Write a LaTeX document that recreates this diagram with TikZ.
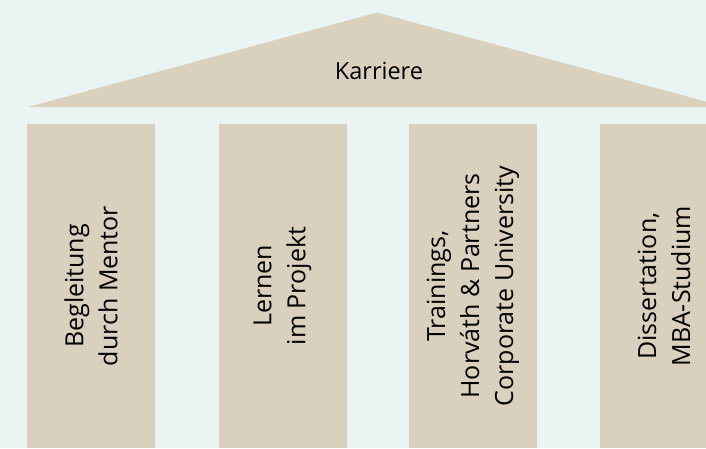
\documentclass[tikz,border=0pt]{standalone}
\usepackage{fontspec}
\setmainfont{Open Sans}
\usetikzlibrary{positioning}
\definecolor{hintergrund}{RGB}{234,245,243}
\definecolor{sand}{RGB}{217,208,190}

\begin{document}
\begin{tikzpicture}[x=1pt,y=-1pt,
	saeule/.style={fill=sand,rotate=90,minimum width=324pt,minimum height=128pt,
		inner sep=0pt,align=center,font=\fontsize{25}{34}\selectfont},
	dach/.style={fill=sand},
	titel/.style={font=\fontsize{23.5}{28}\selectfont}]

%-------------------------------------------------------------------------------
% Hintergrund
%-------------------------------------------------------------------------------
\useasboundingbox (0,0) rectangle (706,448);
\clip (0,0) rectangle (706,448);
\fill [hintergrund] (0,0) rectangle (706,448);

%-------------------------------------------------------------------------------
% Dach
%-------------------------------------------------------------------------------
\coordinate (dachlinks)		at (28,107);
\coordinate (dachspitze)	at (377,12.5);
\coordinate (dachrechts)	at (726,107);
\fill [dach] (dachlinks) -- (dachspitze) -- (dachrechts) -- cycle;
\node (karriere) [titel] at (379,71) {Karriere};

%-------------------------------------------------------------------------------
% Saeulen
%-------------------------------------------------------------------------------
\node (mentor)		[saeule] at (91,286)	{Begleitung\\durch Mentor};
\node (projekt)		[saeule] at (282.5,286)	{Lernen\\im Projekt};
\node (trainings)	[saeule] at (473,286)	{Trainings,\\Horváth \& Partners\\Corporate University};
\node (studium)		[saeule] at (664,286)	{Dissertation,\\MBA-Studium};
\end{tikzpicture}
\end{document}
